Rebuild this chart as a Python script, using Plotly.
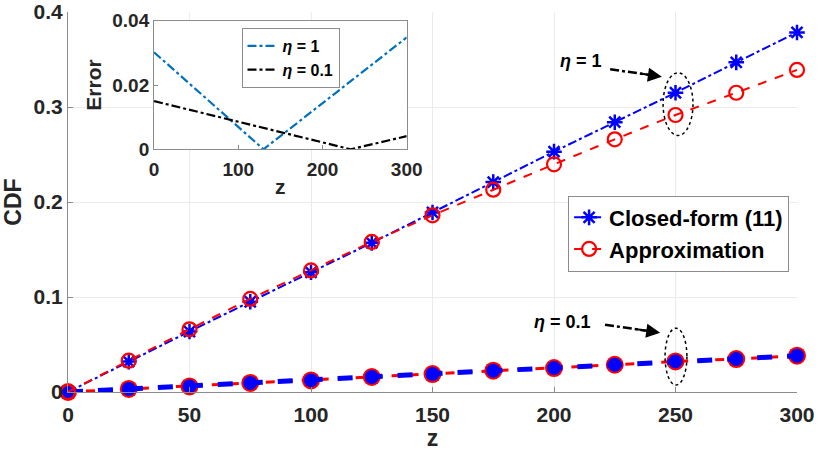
import plotly.graph_objects as go

# main CDF curves
z = [0, 25, 50, 75, 100, 125, 150, 175, 200, 225, 250, 275, 300]
cdf_closed_eta1 = [0, 0.032, 0.0637, 0.095, 0.126, 0.157, 0.189, 0.221, 0.253, 0.284, 0.315, 0.347, 0.3785]
cdf_approx_eta1 = [0, 0.033, 0.066, 0.098, 0.128, 0.158, 0.186, 0.213, 0.2397, 0.266, 0.2916, 0.315, 0.339]
cdf_closed_eta01 = [0, 0.0032, 0.0059, 0.0095, 0.0122, 0.0158, 0.0189, 0.0224, 0.0252, 0.0287, 0.0322, 0.0347, 0.0382]
cdf_approx_eta01 = [0, 0.0032, 0.0059, 0.0095, 0.0122, 0.0158, 0.0189, 0.0224, 0.0252, 0.0287, 0.0322, 0.0347, 0.0382]

# inset error curves
z_err_eta1 = [0, 130, 300]
err_eta1 = [0.0302, 0, 0.0348]
z_err_eta01 = [0, 233.5, 300]
err_eta01 = [0.015, 0, 0.0041]

x_ticks = [0, 50, 100, 150, 200, 250, 300]
y_ticks = [0, 0.1, 0.2, 0.3, 0.4]
inset_x_ticks = [0, 100, 200, 300]
inset_y_ticks = [0, 0.02, 0.04]

FONT = "Liberation Sans"
TXT = "#262626"

fig = go.Figure()

fig.add_trace(go.Scatter(
    x=z, y=cdf_approx_eta01, mode="lines+markers", showlegend=False, cliponaxis=False,
    line=dict(color="red", width=3, dash="dash"),
    marker=dict(symbol="circle", size=18, color="red"),
))
fig.add_trace(go.Scatter(
    x=z, y=cdf_closed_eta01, mode="lines+markers", showlegend=False, cliponaxis=False,
    line=dict(color="blue", width=5, dash="dash"),
    marker=dict(symbol="circle", size=14, color="blue"),
))
fig.add_trace(go.Scatter(
    x=z, y=cdf_closed_eta1, mode="lines+markers", name="Closed-form (11)", cliponaxis=False,
    line=dict(color="blue", width=2, dash="dashdot"),
    marker=dict(symbol="asterisk-open", size=13, line=dict(color="blue", width=2.5)),
))
fig.add_trace(go.Scatter(
    x=z, y=cdf_approx_eta1, mode="lines+markers", name="Approximation", cliponaxis=False,
    line=dict(color="red", width=2, dash="dash"),
    marker=dict(symbol="circle-open", size=14, color="red", line=dict(color="red", width=2.2)),
))

# inset
fig.add_trace(go.Scatter(
    x=z_err_eta1, y=err_eta1, mode="lines", name="<i>η</i> = 1",
    line=dict(color="#0072BD", width=2.2, dash="dashdot"),
    xaxis="x2", yaxis="y2", legend="legend2",
))
fig.add_trace(go.Scatter(
    x=z_err_eta01, y=err_eta01, mode="lines", name="<i>η</i> = 0.1",
    line=dict(color="black", width=2.2, dash="dashdot"),
    xaxis="x2", yaxis="y2", legend="legend2",
))

tick_font = dict(family=FONT, size=21, color=TXT, weight="bold")
inset_font = dict(family=FONT, size=19, color=TXT, weight="bold")

fig.update_layout(
    width=830, height=451,
    margin=dict(l=68, r=33, t=12, b=59),
    paper_bgcolor="white", plot_bgcolor="white",
    xaxis=dict(
        range=[0, 300], tickvals=x_ticks, tickfont=tick_font, automargin=False,
        showgrid=True, gridcolor="#ebebeb", showline=True, linecolor="#8c8c8c",
        ticks="inside", ticklen=5, tickcolor="#8c8c8c", zeroline=False, ticklabelstandoff=4,
        title=dict(text="z", font=dict(family=FONT, size=23, color=TXT, weight="bold"), standoff=0),
    ),
    yaxis=dict(
        range=[0, 0.4], tickvals=y_ticks, ticktext=["0", "0.1", "0.2", "0.3", "0.4"],
        tickfont=tick_font, automargin=False,
        showgrid=True, gridcolor="#ebebeb", showline=True, linecolor="#8c8c8c",
        ticks="inside", ticklen=5, tickcolor="#8c8c8c", zeroline=False,
        title=dict(text="CDF", font=dict(family=FONT, size=23, color=TXT, weight="bold"), standoff=8),
    ),
    xaxis2=dict(
        domain=[0.118, 0.4646], anchor="y2", range=[0, 300], tickvals=inset_x_ticks,
        tickfont=inset_font, showgrid=False, showline=True, mirror=True, automargin=False,
        linecolor="#8c8c8c", ticks="inside", ticklen=4, tickcolor="#8c8c8c", zeroline=False,
        ticklabelstandoff=3,
        title=dict(text="z", font=dict(family=FONT, size=21, color=TXT, weight="bold"), standoff=0),
    ),
    yaxis2=dict(
        domain=[0.6387, 0.977], anchor="x2", range=[0, 0.04], tickvals=inset_y_ticks,
        ticktext=["0", "0.02", "0.04"], automargin=False,
        tickfont=inset_font, showgrid=False, showline=True, mirror=True,
        linecolor="#8c8c8c", ticks="inside", ticklen=4, tickcolor="#8c8c8c", zeroline=False,
        title=dict(text="Error", font=dict(family=FONT, size=21, color=TXT, weight="bold"), standoff=4),
    ),
    legend=dict(
        x=0.686, y=0.517, xanchor="left", yanchor="top",
        bgcolor="white", bordercolor="#8c8c8c", borderwidth=1,
        font=dict(family=FONT, size=22, color="black", weight="bold"),
        itemwidth=30, tracegroupgap=0,
    ),
    legend2=dict(
        x=0.238, y=0.958, xanchor="left", yanchor="top",
        bgcolor="white", bordercolor="#8c8c8c", borderwidth=1,
        font=dict(family=FONT, size=16, color="black", weight="bold"),
        itemwidth=30,
    ),
    showlegend=True,
)

# white background for the inset
fig.add_shape(type="rect", xref="x2 domain", yref="y2 domain", x0=0, x1=1, y0=0, y1=1,
              fillcolor="white", line=dict(width=0), layer="below")

# dotted ellipses
fig.add_shape(type="circle", x0=244.9, x1=257.2, y0=0.270, y1=0.336,
              line=dict(color="black", width=1.5, dash="dot"))
fig.add_shape(type="circle", x0=245.7, x1=254.7, y0=0.0073, y1=0.0672,
              line=dict(color="black", width=1.5, dash="dot"))

# dash-dot arrows with labels
for (tx, ty, sx, sy, ex, ey, label) in [
    (211.2, 0.3484, 223.1, 0.3397, 244.4, 0.3319, "<i>η</i> = 1"),
    (203.4, 0.0739, 221.0, 0.0708, 243.7, 0.0624, "<i>η</i> = 0.1"),
]:
    fig.add_annotation(x=tx, y=ty, text=label, showarrow=False,
                       font=dict(family=FONT, size=18, color="black", weight="bold"))
    fig.add_shape(type="line", x0=sx, y0=sy, x1=sx + 0.8 * (ex - sx), y1=sy + 0.8 * (ey - sy),
                  line=dict(color="black", width=2.5, dash="dashdot"))
    fig.add_annotation(x=ex, y=ey, ax=sx + 0.55 * (ex - sx), ay=sy + 0.55 * (ey - sy),
                       axref="x", ayref="y", text="", showarrow=True,
                       arrowhead=2, arrowsize=1.4, arrowwidth=2, arrowcolor="black")

# drop the default 8px page margin so the figure fills the window
fig.write_html("out.html", config={"displayModeBar": False},
               post_script="document.body.style.margin='0';")
